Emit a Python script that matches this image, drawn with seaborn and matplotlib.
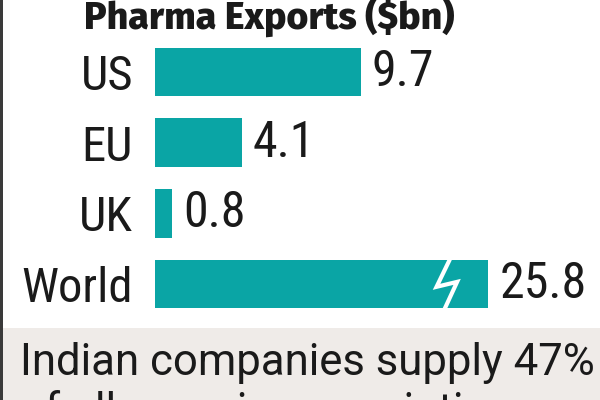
import numpy as np
import pandas as pd
import matplotlib
matplotlib.use("Agg")
import matplotlib.pyplot as plt
import seaborn as sns
from matplotlib.patches import Rectangle

# --- data ---
countries = ["US", "EU", "UK", "World"]
exports_bn = [9.7, 4.1, 0.8, 25.8]
value_labels = ["9.7", "4.1", "0.8", "25.8"]
title = "Pharma Exports ($bn)"
footnote = ["Indian companies supply 47%", "of all generic prescriptions"]

# broken axis: skip a stretch so the World bar fits
BREAK_AT = 13.8
BREAK_GAP = 10.1
EPS = 1e-3

TEAL = "#0aa5a5"
INK = "#1a1a1a"
BAND = "#efebe8"
NARROW = ["Roboto Condensed", "DejaVu Sans"]
HEAD = ["Fira Sans", "Roboto Condensed", "DejaVu Sans"]
BODY = ["Roboto", "DejaVu Sans"]


def fwd(x):
    x = np.asarray(x, dtype=float)
    b = BREAK_AT + BREAK_GAP
    return np.where(x < BREAK_AT, x,
                    np.where(x < b, BREAK_AT + (x - BREAK_AT) * EPS,
                             BREAK_AT + BREAK_GAP * EPS + (x - b)))


def inv(y):
    y = np.asarray(y, dtype=float)
    top = BREAK_AT + BREAK_GAP * EPS
    return np.where(y < BREAK_AT, y,
                    np.where(y < top, BREAK_AT + (y - BREAK_AT) / EPS,
                             y - top + BREAK_AT + BREAK_GAP))


df = pd.DataFrame({"country": countries, "value": exports_bn})

sns.set_theme(style="white")
plt.rcParams["font.family"] = NARROW

fig = plt.figure(figsize=(6, 4), dpi=100)
fig.patch.set_facecolor("white")

# grey footer band + dark left rule
fig.patches.append(Rectangle((3 / 600, 0), 1, 72 / 400, transform=fig.transFigure,
                             facecolor=BAND, edgecolor="none", zorder=0))
fig.patches.append(Rectangle((0, 0), 3 / 600, 1, transform=fig.transFigure,
                             facecolor="#3a3a3a", edgecolor="none", zorder=1))

ax = fig.add_axes([155 / 600, 0.2017, 445 / 600, 0.7065])
ax.set_facecolor("none")
sns.barplot(data=df, y="country", x="value", orient="h", color=TEAL,
            saturation=1, width=0.69, ax=ax, edgecolor="none")
ax.set_xscale("function", functions=(fwd, inv))
ax.set_xlim(0, float(inv(20.99)))
ax.set_ylim(3.5, -0.5)

ax.set_xlabel("")
ax.set_ylabel("")
ax.set_xticks([])
ax.tick_params(axis="y", length=0, pad=15.8)
for lab in ax.get_yticklabels():
    lab.set_fontsize(35)
    lab.set_color(INK)
    lab.set_family(NARROW)
for s in ax.spines.values():
    s.set_visible(False)

for i, (v, txt) in enumerate(zip(exports_bn, value_labels)):
    ax.annotate(txt, (v, i), xytext=(8, 0), textcoords="offset points",
                ha="left", va="center", fontsize=36, color=INK, family=NARROW)

# lightning-bolt break mark on the World bar
row = countries.index("World")
bolt_dx = np.array([0.11, -0.52, 0.45, -0.18])
bolt_dy = np.array([-0.35, 0.04, -0.03, 0.38])
ax.plot(inv(BREAK_AT + bolt_dx), row + bolt_dy, color="white", lw=3,
        solid_joinstyle="miter", solid_capstyle="butt", clip_on=False)

fig.text(84 / 600, 1 - 30 / 400, title, ha="left", va="baseline",
         fontsize=27, fontweight="heavy", color=INK, family=HEAD)

fig.text(20 / 600, 1 - 375 / 400, footnote[0], ha="left", va="baseline",
         fontsize=31.5, color=INK, family=BODY)
fig.text(20 / 600, 1 - 424 / 400, footnote[1], ha="left", va="baseline",
         fontsize=31.5, color=INK, family=BODY)

fig.savefig("out.png", dpi=100)
